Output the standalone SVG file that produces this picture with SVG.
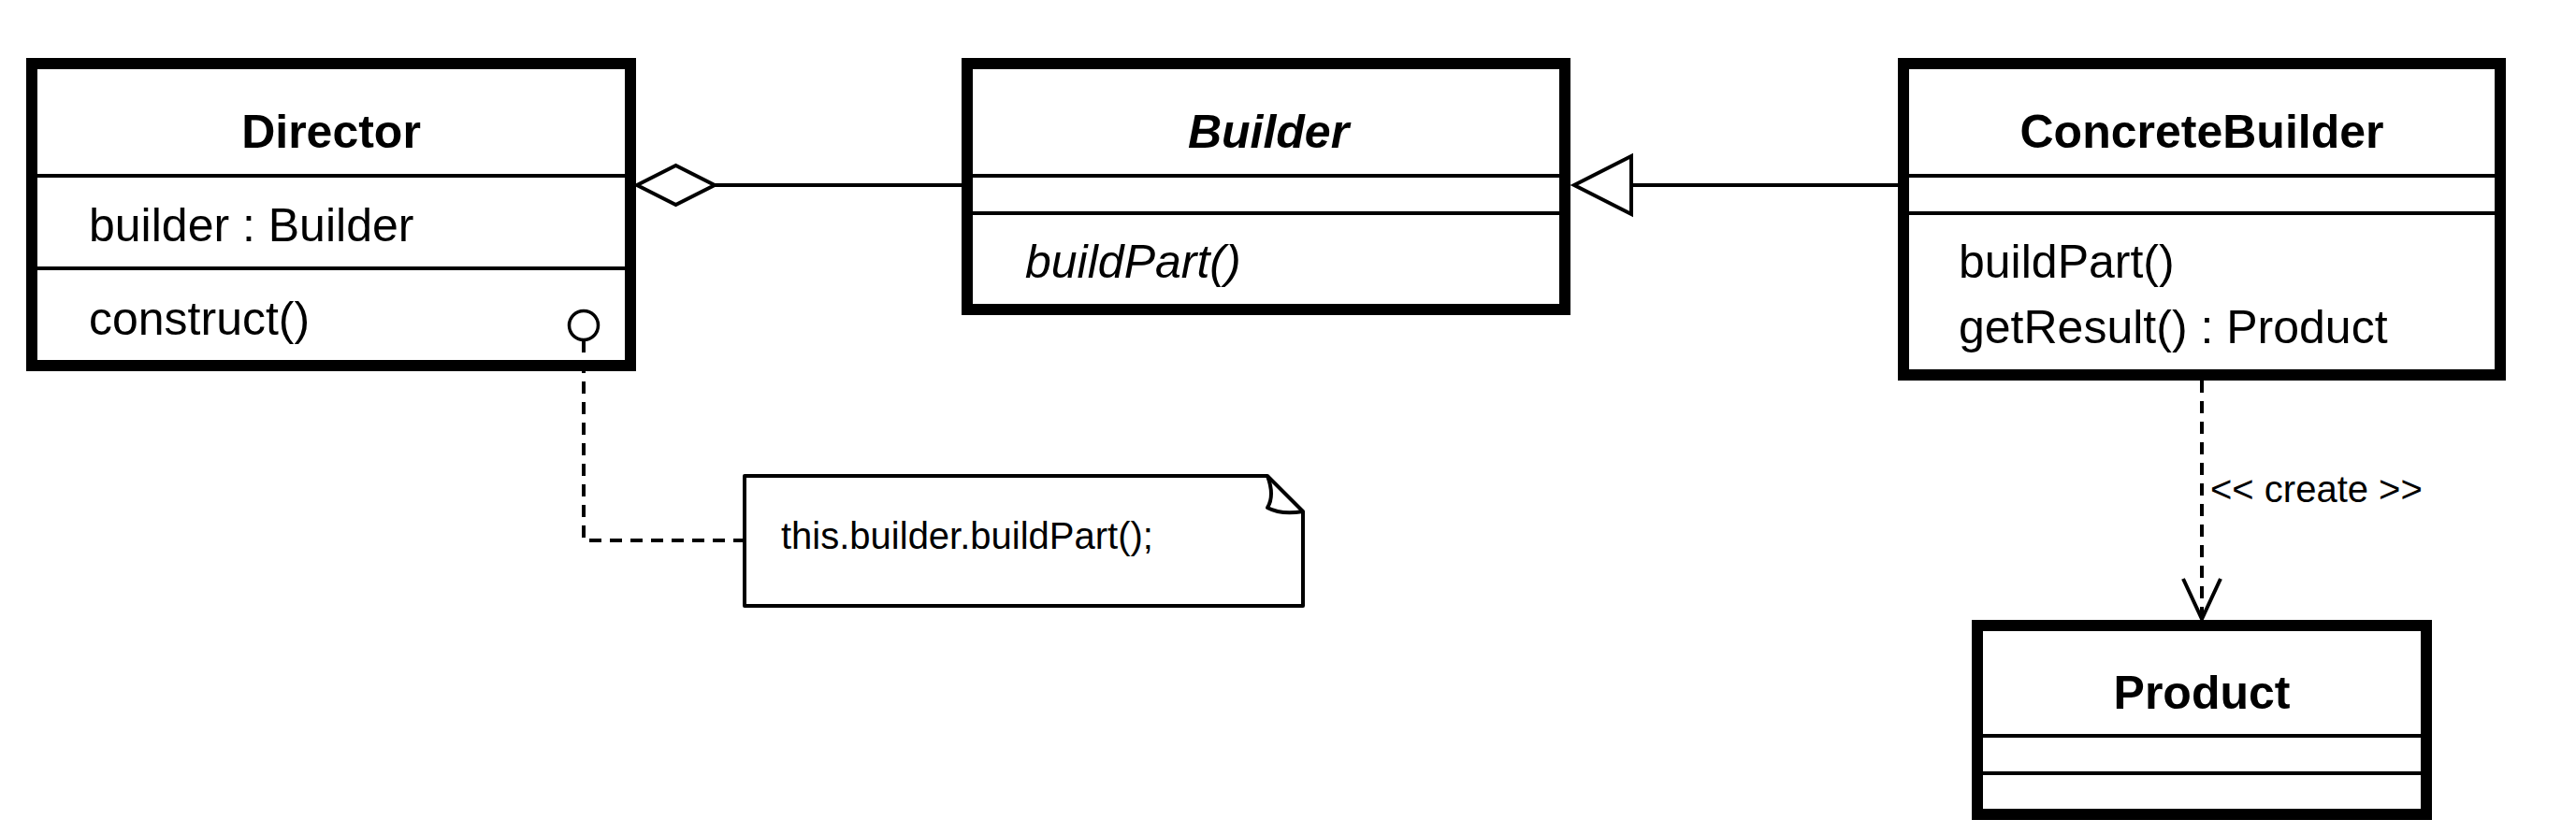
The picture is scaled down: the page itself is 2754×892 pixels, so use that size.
<svg xmlns="http://www.w3.org/2000/svg" width="2754" height="892" viewBox="0 0 2754 892">
<style>
  .box { fill: #fff; stroke: #000; stroke-width: 12; }
  .sep { stroke: #000; stroke-width: 4; fill: none; }
  .title { font-family: "Liberation Sans", Arial, Helvetica, sans-serif; font-size: 50px; font-weight: bold; text-anchor: middle; fill: #000; }
  .member { font-family: "Liberation Sans", Arial, Helvetica, sans-serif; font-size: 50px; fill: #000; }
  .small { font-family: "Liberation Sans", Arial, Helvetica, sans-serif; font-size: 40px; fill: #000; }
  .line { stroke: #000; stroke-width: 4; fill: none; }
  .dash { stroke: #000; stroke-width: 4; fill: none; stroke-dasharray: 13 9; }
  .note { fill: #fff; stroke: #000; stroke-width: 4; stroke-linejoin: round; }
</style>
<defs>
  <marker id="diamond" markerUnits="userSpaceOnUse" markerWidth="90" markerHeight="50" refX="2" refY="23" orient="auto" overflow="visible">
    <path d="M2,23 L43.5,2 L85,23 L43.5,44 Z" fill="#fff" stroke="#000" stroke-width="4" stroke-dasharray="none"/>
  </marker>
  <marker id="triangle" markerUnits="userSpaceOnUse" markerWidth="70" markerHeight="70" refX="63" refY="33" orient="auto" overflow="visible">
    <path d="M2,2 L63,33 L2,64 Z" fill="#fff" stroke="#000" stroke-width="4" stroke-dasharray="none"/>
  </marker>
  <marker id="open" markerUnits="userSpaceOnUse" markerWidth="50" markerHeight="50" refX="45" refY="22" orient="auto" overflow="visible">
    <path d="M2,2 L45,22 L2,42" fill="none" stroke="#000" stroke-width="4" stroke-dasharray="none"/>
  </marker>
</defs>
<rect width="2754" height="892" fill="#fff"/>

<g id="Director">
  <rect class="box" x="34" y="68" width="640" height="323"/>
  <line class="sep" x1="40" y1="188" x2="668" y2="188"/>
  <line class="sep" x1="40" y1="287" x2="668" y2="287"/>
  <text class="title" x="354" y="158">Director</text>
  <text class="member" x="95" y="258">builder : Builder</text>
  <text class="member" x="95" y="358">construct()</text>
</g>

<g id="Builder">
  <rect class="box" x="1034" y="68" width="639" height="263"/>
  <line class="sep" x1="1040" y1="188" x2="1667" y2="188"/>
  <line class="sep" x1="1040" y1="228" x2="1667" y2="228"/>
  <text class="title" x="1356" y="158" font-style="italic">Builder</text>
  <text class="member" x="1096" y="297" font-style="italic">buildPart()</text>
</g>

<g id="ConcreteBuilder">
  <rect class="box" x="2035" y="68" width="638" height="333"/>
  <line class="sep" x1="2041" y1="188" x2="2667" y2="188"/>
  <line class="sep" x1="2041" y1="228" x2="2667" y2="228"/>
  <text class="title" x="2354" y="158">ConcreteBuilder</text>
  <text class="member" x="2094" y="297">buildPart()</text>
  <text class="member" x="2094" y="367">getResult() : Product</text>
</g>

<g id="Product">
  <rect class="box" x="2114" y="669" width="480" height="202"/>
  <line class="sep" x1="2120" y1="787" x2="2588" y2="787"/>
  <line class="sep" x1="2120" y1="827" x2="2588" y2="827"/>
  <text class="title" x="2354" y="758">Product</text>
</g>

<g id="Note">
  <path class="note" d="M796,509 H1355 L1393,547 V648 H796 Z"/>
  <path class="line" stroke-linejoin="round" d="M1355,509 Q1363,530 1355,543 Q1370,551 1393,547"/>
  <text class="small" x="835" y="587">this.builder.buildPart();</text>
</g>

<g id="connectors">
  <line class="line" x1="681" y1="198" x2="1028" y2="198" marker-start="url(#diamond)"/>
  <line class="line" x1="2029" y1="198" x2="1683" y2="198" marker-end="url(#triangle)"/>
  <line class="dash" x1="2354" y1="407" x2="2354" y2="662" marker-end="url(#open)"/>
  <text class="small" x="2363" y="537">&lt;&lt; create &gt;&gt;</text>
  <path class="dash" d="M624,364 V578 H794"/>
  <circle cx="624" cy="348" r="15.5" fill="#fff" stroke="#000" stroke-width="3.5"/>
</g>
</svg>
